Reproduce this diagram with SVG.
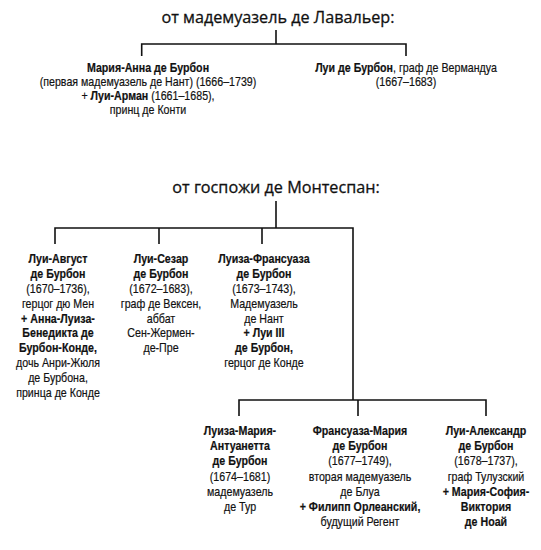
<svg xmlns="http://www.w3.org/2000/svg" width="541" height="550" viewBox="0 0 541 550">
<style>
.t{font-family:"Open Sans","Noto Sans",sans-serif;font-size:16.2px;fill:#111;stroke:#111;stroke-width:0.3;text-anchor:middle}
.n{font-family:"Liberation Sans",Arial,sans-serif;font-size:13px;fill:#111;stroke:#111;stroke-width:0.2;text-anchor:middle}
.b{font-weight:bold}
.c{stroke:#111;stroke-width:1.6;fill:none}
</style>
<rect width="541" height="550" fill="#fff"/>
<text class="t" x="278" y="23">от мадемуазель де Лавальер:</text>
<text class="t" x="276" y="193">от госпожи де Монтеспан:</text>
<g id="connectors">
<path class="c" d="M276,30V44M141.7,44H406M141.7,43.2V56M406,43.2V56"/>
<path class="c" d="M276,201V228M55,228H353M55,227.2V244M159,228V244M262,228V244M353,227.2V400"/>
<path class="c" d="M239,400H486M239,399.2V416M358,400V416M486,399.2V416"/>
</g>
<g id="marie-anne" transform="translate(148,0) scale(0.82,1)">
<text class="n b" x="0" y="72">Мария-Анна де Бурбон</text>
<text class="n" x="0" y="86">(первая мадемуазель де Нант) (1666–1739)</text>
<text class="n" x="0" y="100">+ <tspan class="b">Луи-Арман</tspan> (1661–1685),</text>
<text class="n" x="0" y="114">принц де Конти</text>
</g>
<g id="louis-vermandois" transform="translate(406,0) scale(0.82,1)">
<text class="n" x="0" y="72"><tspan class="b">Луи де Бурбон</tspan>, граф де Вермандуа</text>
<text class="n" x="0" y="86">(1667–1683)</text>
</g>
<g id="louis-auguste" transform="translate(58,0) scale(0.82,1)">
<text class="n b" x="0" y="263">Луи-Август</text>
<text class="n b" x="0" y="277.9">де Бурбон</text>
<text class="n" x="0" y="292.8">(1670–1736),</text>
<text class="n" x="0" y="307.7">герцог дю Мен</text>
<text class="n b" x="0" y="322.6">+ Анна-Луиза-</text>
<text class="n b" x="0" y="337.5">Бенедикта де</text>
<text class="n b" x="0" y="352.4">Бурбон-Конде,</text>
<text class="n" x="0" y="367.3">дочь Анри-Жюля</text>
<text class="n" x="0" y="382.2">де Бурбона,</text>
<text class="n" x="0" y="397.1">принца де Конде</text>
</g>
<g id="louis-cesar" transform="translate(161,0) scale(0.82,1)">
<text class="n b" x="0" y="263">Луи-Сезар</text>
<text class="n b" x="0" y="277.9">де Бурбон</text>
<text class="n" x="0" y="292.8">(1672–1683),</text>
<text class="n" x="0" y="307.7">граф де Вексен,</text>
<text class="n" x="0" y="322.6">аббат</text>
<text class="n" x="0" y="337.5">Сен-Жермен-</text>
<text class="n" x="0" y="352.4">де-Пре</text>
</g>
<g id="louise-francoise" transform="translate(264,0) scale(0.82,1)">
<text class="n b" x="0" y="263">Луиза-Франсуаза</text>
<text class="n b" x="0" y="277.9">де Бурбон</text>
<text class="n" x="0" y="292.8">(1673–1743),</text>
<text class="n" x="0" y="307.7">Мадемуазель</text>
<text class="n" x="0" y="322.6">де Нант</text>
<text class="n b" x="0" y="337.5">+ Луи III</text>
<text class="n b" x="0" y="352.4">де Бурбон,</text>
<text class="n" x="0" y="367.3">герцог де Конде</text>
</g>
<g id="louise-marie" transform="translate(240,0) scale(0.82,1)">
<text class="n b" x="0" y="435">Луиза-Мария-</text>
<text class="n b" x="0" y="450.2">Антуанетта</text>
<text class="n b" x="0" y="465.4">де Бурбон</text>
<text class="n" x="0" y="480.6">(1674–1681)</text>
<text class="n" x="0" y="495.8">мадемуазель</text>
<text class="n" x="0" y="511">де Тур</text>
</g>
<g id="francoise-marie" transform="translate(360,0) scale(0.82,1)">
<text class="n b" x="0" y="435">Франсуаза-Мария</text>
<text class="n b" x="0" y="450.2">де Бурбон</text>
<text class="n" x="0" y="465.4">(1677–1749),</text>
<text class="n" x="0" y="480.6">вторая мадемуазель</text>
<text class="n" x="0" y="495.8">де Блуа</text>
<text class="n b" x="0" y="511">+ Филипп Орлеанский,</text>
<text class="n" x="0" y="526.2">будущий Регент</text>
</g>
<g id="louis-alexandre" transform="translate(486,0) scale(0.82,1)">
<text class="n b" x="0" y="435">Луи-Александр</text>
<text class="n b" x="0" y="450.2">де Бурбон</text>
<text class="n" x="0" y="465.4">(1678–1737),</text>
<text class="n" x="0" y="480.6">граф Тулузский</text>
<text class="n b" x="0" y="495.8">+ Мария-София-</text>
<text class="n b" x="0" y="511">Виктория</text>
<text class="n b" x="0" y="526.2">де Ноай</text>
</g>
</svg>
